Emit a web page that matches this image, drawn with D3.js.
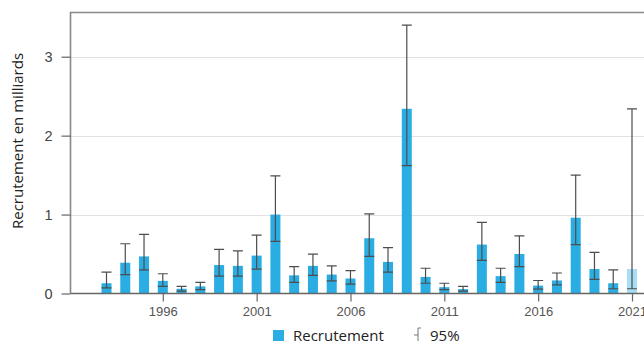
<!DOCTYPE html>
<html>
<head>
<meta charset="utf-8">
<script src="https://cdn.jsdelivr.net/npm/d3@7/dist/d3.min.js"></script>
<style>
  html, body { margin: 0; padding: 0; background: #fff; }
  svg { display: block; font-family: "Open Sans", "Noto Sans", sans-serif; }
</style>
</head>
<body>
<svg id="chart" width="644" height="344"></svg>
<script>
// Recruitment estimates (billions) with 95% confidence intervals
const years = [1993, 1994, 1995, 1996, 1997, 1998, 1999, 2000, 2001, 2002,
  2003, 2004, 2005, 2006, 2007, 2008, 2009, 2010, 2011, 2012,
  2013, 2014, 2015, 2016, 2017, 2018, 2019, 2020, 2021];
const recruitment = [0.13, 0.39, 0.47, 0.16, 0.06, 0.09, 0.36, 0.35, 0.48, 1.00,
  0.23, 0.35, 0.24, 0.19, 0.70, 0.40, 2.34, 0.21, 0.08, 0.055,
  0.62, 0.22, 0.50, 0.10, 0.165, 0.96, 0.31, 0.13, 0.31];
const ciLow = [0.07, 0.24, 0.30, 0.09, 0.03, 0.05, 0.22, 0.22, 0.31, 0.66,
  0.14, 0.23, 0.16, 0.12, 0.47, 0.27, 1.62, 0.13, 0.05, 0.03,
  0.42, 0.14, 0.34, 0.055, 0.11, 0.62, 0.18, 0.06, 0.06];
const ciHigh = [0.27, 0.63, 0.75, 0.25, 0.09, 0.14, 0.56, 0.54, 0.74, 1.49,
  0.34, 0.50, 0.35, 0.29, 1.01, 0.58, 3.40, 0.32, 0.13, 0.09,
  0.90, 0.32, 0.73, 0.165, 0.26, 1.50, 0.52, 0.30, 2.34];
const provisionalYears = [2021];
const xTickYears = [1996, 2001, 2006, 2011, 2016, 2021];
const yTicks = [0, 1, 2, 3];
const legendLabels = ["Recrutement", "95%"];

const svg = d3.select("#chart");
const plotLeft = 70.5, plotTop = 12.5, plotBottom = 293.5, plotRight = 644;

const x = d3.scaleLinear().domain([1993, 2021]).range([106.5, 632]);
const y = d3.scaleLinear().domain([0, 3.56]).range([plotBottom, plotTop]);
const barW = 10;

// horizontal gridlines
svg.append("g").selectAll("line").data(yTicks.filter(d => d > 0)).join("line")
  .attr("x1", plotLeft).attr("x2", plotRight)
  .attr("y1", d => Math.round(y(d)) + 0.5).attr("y2", d => Math.round(y(d)) + 0.5)
  .attr("stroke", "#e2e2e2").attr("stroke-width", 1);

// frame: top and left edges
svg.append("path")
  .attr("d", `M${plotLeft},${plotBottom}V${plotTop}H${plotRight}`)
  .attr("fill", "none").attr("stroke", "#888").attr("stroke-width", 1.6);

// y axis
const yAxis = svg.append("g").attr("transform", `translate(${plotLeft},0)`)
  .call(d3.axisLeft(y).tickValues(yTicks).tickFormat(d3.format("d")).tickSize(9).tickPadding(9));
yAxis.select(".domain").remove();
yAxis.selectAll(".tick line").attr("stroke", "#666").attr("stroke-width", 1.2);
yAxis.selectAll(".tick text").attr("fill", "#444").style("font-size", "14.5px");

// bars
const data = years.map((yr, i) => ({ yr, v: recruitment[i], lo: ciLow[i], hi: ciHigh[i] }));
svg.append("g").selectAll("rect").data(data).join("rect")
  .attr("x", d => x(d.yr) - barW / 2)
  .attr("width", barW)
  .attr("y", d => y(d.v))
  .attr("height", d => y(0) - y(d.v))
  .attr("fill", d => provisionalYears.includes(d.yr) ? "#a6def5" : "#29ade2");

// error bars
const eb = svg.append("g").attr("stroke", "#4d4d4d").attr("stroke-width", 1.2).attr("fill", "none");
eb.selectAll("path").data(data).join("path")
  .attr("d", d => {
    const cx = x(d.yr), yl = y(d.lo), yh = y(d.hi);
    return `M${cx},${yl}V${yh}M${cx - 5},${yh}H${cx + 5}M${cx - 5},${yl}H${cx + 5}`;
  });

// x axis
const xAxis = svg.append("g").attr("transform", `translate(0,${plotBottom})`)
  .call(d3.axisBottom(x).tickValues(xTickYears).tickFormat(d3.format("d")).tickSize(8).tickPadding(5));
xAxis.select(".domain").attr("d", `M${plotLeft},0H${plotRight}`).attr("stroke", "#666").attr("stroke-width", 1.4);
xAxis.selectAll(".tick line").attr("stroke", "#666").attr("stroke-width", 1.2);
xAxis.selectAll(".tick text").attr("fill", "#555").style("font-size", "13px");

// y axis title
svg.append("text")
  .attr("transform", `translate(23,141) rotate(-90)`)
  .attr("text-anchor", "middle")
  .attr("fill", "#222").style("font-size", "15px")
  .text("Recrutement en milliards");

// legend
const lg = svg.append("g");
lg.append("rect").attr("x", 273).attr("y", 330).attr("width", 11).attr("height", 11).attr("fill", "#29ade2");
lg.append("text").attr("x", 293).attr("y", 341).attr("fill", "#222").style("font-size", "15px").text(legendLabels[0]);
lg.append("path")
  .attr("d", "M418,328V341M414,335H418M418,328H421")
  .attr("stroke", "#777").attr("stroke-width", 1).attr("fill", "none");
lg.append("text").attr("x", 430).attr("y", 341).attr("fill", "#222").style("font-size", "15px").text(legendLabels[1]);
</script>
</body>
</html>
